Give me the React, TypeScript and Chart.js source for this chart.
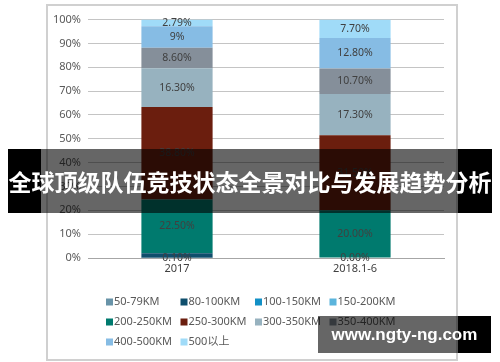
import React, { useEffect, useRef } from "react";
import { Chart, registerables } from "chart.js";

Chart.register(...registerables);

const categories = ["2017", "2018.1-6"];
const seriesNames = [
  "50-79KM",
  "80-100KM",
  "100-150KM",
  "150-200KM",
  "200-250KM",
  "250-300KM",
  "300-350KM",
  "350-400KM",
  "400-500KM",
  "500以上",
];
const v50_79 = [0.1, 0.0];
const v80_100 = [1.91, 0.0];
const v100_150 = [0, 0];
const v150_200 = [0, 0];
const v200_250 = [22.5, 20.0];
const v250_300 = [38.8, 31.5];
const v300_350 = [16.3, 17.3];
const v350_400 = [8.6, 10.7];
const v400_500 = [9, 12.8];
const v500plus = [2.79, 7.7];
const seriesValues = [v50_79, v80_100, v100_150, v150_200, v200_250, v250_300, v300_350, v350_400, v400_500, v500plus];
const hiddenLabelSeries = ["80-100KM", "100-150KM", "150-200KM"];
const labelOverrides: Record<string, (string | null)[]> = { "400-500KM": ["9%", null] };
const yTicks = [0, 10, 20, 30, 40, 50, 60, 70, 80, 90, 100];

const seriesColors = [
  "#6893A8",
  "#0F4E6C",
  "#1290C6",
  "#5BB4DC",
  "#007A6E",
  "#6B1E0E",
  "#97B2BF",
  "#858F9A",
  "#86BCE4",
  "#A0DBF8",
];

const FONT = "'Noto Sans', 'Noto Sans CJK SC', sans-serif";

const valueLabelPlugin = {
  id: "valueLabels",
  afterDatasetsDraw(chart: any) {
    const ctx = chart.ctx;
    ctx.save();
    ctx.font = "10.5px " + FONT;
    ctx.fillStyle = "#404040";
    ctx.textAlign = "center";
    ctx.textBaseline = "middle";
    chart.data.datasets.forEach((ds: any, di: number) => {
      if (hiddenLabelSeries.includes(ds.label)) return;
      const meta = chart.getDatasetMeta(di);
      meta.data.forEach((el: any, i: number) => {
        const v = ds.data[i];
        const ov = labelOverrides[ds.label];
        const text = ov && ov[i] ? ov[i] : v.toFixed(2) + "%";
        ctx.fillText(text, el.x, (el.y + el.base) / 2);
      });
    });
    ctx.restore();
  },
};

const gridLegendPlugin = {
  id: "gridLegend",
  afterDraw(chart: any) {
    const ctx = chart.ctx;
    const area = chart.chartArea;
    ctx.save();
    ctx.font = "11px " + FONT;
    ctx.textBaseline = "middle";
    ctx.textAlign = "left";
    chart.data.datasets.forEach((ds: any, i: number) => {
      const col = i % 4;
      const row = Math.floor(i / 4);
      const x = area.left + 18 + col * 74.5;
      const y = area.bottom + 44 + row * 20;
      ctx.fillStyle = ds.backgroundColor;
      ctx.fillRect(x, y - 3.5, 7, 7);
      ctx.fillStyle = "#595959";
      ctx.fillText(ds.label, x + 8, y);
    });
    ctx.restore();
  },
};

export default function App() {
  const ref = useRef<HTMLCanvasElement | null>(null);

  useEffect(() => {
    if (!ref.current) return;
    const chart = new Chart(ref.current, {
      type: "bar",
      data: {
        labels: categories,
        datasets: seriesNames.map((name, i) => ({
          label: name,
          data: seriesValues[i],
          backgroundColor: seriesColors[i],
          borderWidth: 0,
          barPercentage: 0.8,
          categoryPercentage: 0.5,
        })),
      },
      options: {
        animation: false,
        responsive: false,
        maintainAspectRatio: false,
        devicePixelRatio: 1,
        layout: { padding: { left: 0, right: 12, top: 10, bottom: 81 } },
        plugins: {
          legend: { display: false },
          tooltip: { enabled: false },
        },
        scales: {
          x: {
            stacked: true,
            grid: { display: false, drawTicks: false },
            border: { display: true, color: "#A6A6A6", width: 1 },
            ticks: { color: "#404040", font: { size: 11, family: FONT }, padding: 4 },
            afterFit: (s: any) => {
              s.height = 20;
            },
          },
          y: {
            stacked: true,
            min: 0,
            max: 100,
            afterBuildTicks: (s: any) => {
              s.ticks = yTicks.map((v) => ({ value: v }));
            },
            grid: { color: "#C4C4C4", lineWidth: 1, drawTicks: false },
            border: { display: false },
            ticks: {
              color: "#595959",
              font: { size: 11, family: FONT },
              padding: 7,
              callback: (v: any) => v + "%",
            },
            afterFit: (s: any) => {
              s.width = 40;
            },
          },
        },
      },
      plugins: [valueLabelPlugin, gridLegendPlugin],
    });
    return () => chart.destroy();
  }, []);

  return (
    <div
      style={{
        position: "fixed",
        left: 0,
        top: 0,
        width: 500,
        height: 362,
        background: "#fff",
        overflow: "hidden",
      }}
    >
      <div
        style={{
          position: "absolute",
          left: 46,
          top: 4,
          width: 408,
          height: 353,
          border: "2px solid #D0D0D0",
          boxSizing: "content-box",
        }}
      >
        <canvas ref={ref} width={408} height={353} style={{ display: "block", width: 408, height: 353 }} />
      </div>
      <div
        style={{
          position: "absolute",
          left: 8,
          top: 149,
          width: 484,
          height: 64,
          background:
            "linear-gradient(to right, #000 0px, #000 33px, rgba(0,0,0,0.6) 33px, rgba(0,0,0,0.6) 450px, #000 450px, #000 484px)",
          color: "#fff",
          fontFamily: "'Noto Sans CJK SC', sans-serif",
          fontWeight: 700,
          fontSize: 23,
          lineHeight: "64px",
          textAlign: "center",
          whiteSpace: "nowrap",
          letterSpacing: 0,
        }}
      >
        全球顶级队伍竞技状态全景对比与发展趋势分析
      </div>
      <div
        style={{
          position: "absolute",
          left: 318,
          top: 316,
          width: 173,
          height: 37,
          background:
            "linear-gradient(to right, rgba(0,0,0,0.6) 0px, rgba(0,0,0,0.6) 140px, #000 140px, #000 173px)",
          color: "#fff",
          fontFamily: "'Liberation Sans', Arial, sans-serif",
          fontWeight: 700,
          fontSize: 17,
          lineHeight: "37px",
          textAlign: "center",
          whiteSpace: "nowrap",
        }}
      >
        www.ngty-ng.com
      </div>
    </div>
  );
}
